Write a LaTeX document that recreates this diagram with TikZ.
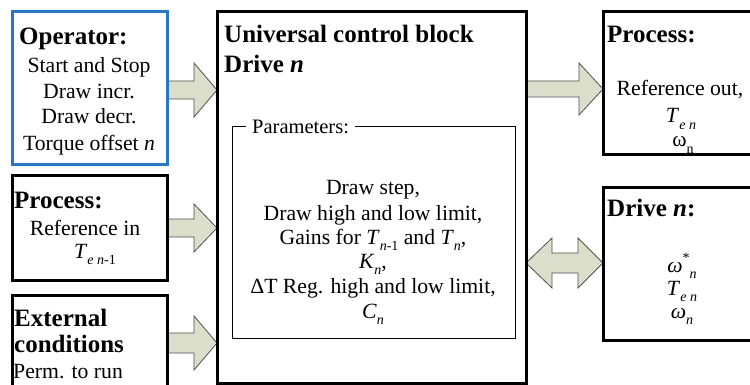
\documentclass[tikz,border=0pt]{standalone}
\usepackage{fontspec}
\setmainfont{Liberation Serif}
\usetikzlibrary{calc,backgrounds}
\definecolor{opblue}{RGB}{40,120,195}
\definecolor{arrfill}{RGB}{218,222,202}
\definecolor{arrline}{RGB}{80,80,80}
\newcommand\sbs[1]{\raisebox{-0.28em}{\fontsize{14}{14}\selectfont #1}}
\newcommand\sps[1]{\raisebox{0.45em}{\fontsize{14}{14}\selectfont #1}}
% right-pointing fat arrow: #1 from node, #2 to node, #3 y centre, #4 head half, #5 body half, #6 head length
\newcommand\rarr[6]{%
  \draw[fat] (#1.east |- 0,#3-#5) -- ($(#2.west |- 0,#3-#5)+(-#6,0)$) -- ($(#2.west |- 0,#3-#4)+(-#6,0)$)
    -- (#2.west |- 0,#3) -- ($(#2.west |- 0,#3+#4)+(-#6,0)$) -- ($(#2.west |- 0,#3+#5)+(-#6,0)$)
    -- (#1.east |- 0,#3+#5) -- cycle;}
\begin{document}
\begin{tikzpicture}[x=1pt,y=-1pt,
  box/.style={draw, line width=3pt, anchor=north west, inner sep=0pt, outer sep=0pt},
  txt/.style={inner sep=0pt, font=\fontsize{21.7}{24.8}\selectfont},
  hd/.style={inner sep=0pt, font=\fontsize{25}{28}\selectfont\bfseries},
  fat/.style={draw=arrline, fill=arrfill, line width=0.8pt, line join=miter}]
\path[use as bounding box, clip] (0,0) rectangle (750,385);

% boxes
\node[box, draw=opblue, minimum width=155, minimum height=153] (op) at (12,12) {};
\node[box, minimum width=155, minimum height=104] (pin) at (12,176) {};
\node[box, minimum width=155, minimum height=125] (ext) at (12,295) {};
\node[box, minimum width=309, minimum height=371] (main) at (217,12) {};
\node[box, line width=1pt, minimum width=283, minimum height=211] (par) at (232,127) {};
\node[box, minimum width=200, minimum height=143] (pout) at (603,12) {};
\node[box, minimum width=200, minimum height=152] (drv) at (603,188) {};

% arrows
\begin{scope}[on background layer]
\fill[white] (0,0) rectangle (750,385);
\rarr{op}{main}{90}{27}{9}{23}
\rarr{pin}{main}{228}{24}{9}{23}
\rarr{ext}{main}{343}{27}{10}{23}
\rarr{main}{pout}{89}{26}{8}{24}
\draw[fat] (main.east |- 0,263) -- ($(main.east |- 0,263-25)+(26,0)$) -- ($(main.east |- 0,263-10)+(26,0)$)
  -- ($(drv.west |- 0,263-10)+(-25,0)$) -- ($(drv.west |- 0,263-25)+(-25,0)$) -- (drv.west |- 0,263)
  -- ($(drv.west |- 0,263+25)+(-25,0)$) -- ($(drv.west |- 0,263+10)+(-25,0)$)
  -- ($(main.east |- 0,263+10)+(26,0)$) -- ($(main.east |- 0,263+25)+(26,0)$) -- cycle;
\end{scope}

% operator
\node[hd, anchor=base west] (opT) at (19,45) {Operator:};
\node[txt, anchor=base] (op1) at (89,73) {Start and Stop};
\node[txt, anchor=base] (op2) at (89,99) {Draw incr.};
\node[txt, anchor=base] (op3) at (89,124) {Draw decr.};
\node[txt, anchor=base] (op4) at (89,150) {Torque offset \textit{n}};

% process in
\node[hd, anchor=base west] (pinT) at (14,208) {Process:};
\node[txt, anchor=base] (pin1) at (85,235) {Reference in};
\node[txt, anchor=base] (pin2) at (95,258) {\textit{T}\sbs{\textit{e n}-1}};

% external
\node[hd, anchor=base west] (extT1) at (14,326) {External};
\node[hd, anchor=base west] (extT2) at (14,352) {conditions};
\node[txt, anchor=base west] (ext1) at (13,378) {Perm. to run};

% main
\node[hd, anchor=base west] (mT1) at (224,43) {Universal control block};
\node[hd, anchor=base west] (mT2) at (224,73) {Drive \textit{n}};
\node[txt, fill=white, inner xsep=6pt, anchor=base west, font=\fontsize{20.5}{24}\selectfont] (parT) at (246,134) {Parameters:};
\node[txt, anchor=base] (p1) at (373,194) {Draw step,};
\node[txt, anchor=base] (p2) at (373,220) {Draw high and low limit,};
\node[txt, anchor=base] (p3) at (373,244) {Gains for \textit{T}\sbs{\textit{n}-1} and \textit{T}\sbs{\textit{n}},};
\node[txt, anchor=base] (p4) at (373,268) {\textit{K}\sbs{\textit{n}},};
\node[txt, anchor=base] (p5) at (373,293) {ΔT Reg. high and low limit,};
\node[txt, anchor=base] (p6) at (373,318) {\textit{C}\sbs{\textit{n}}};

% process out
\node[hd, anchor=base west] (poT) at (607,43) {Process:};
\node[txt, anchor=base] (po1) at (680,96) {Reference out,};
\node[txt, anchor=base] (po2) at (681,123) {\textit{T}\sbs{\textit{e n}}};
\node[txt, anchor=base] (po3) at (683,147) {ω\sbs{n}};

% drive
\node[hd, anchor=base west] (drT) at (607,216) {Drive \textit{n}:};
\node[txt, anchor=base] (dr1) at (682,272) {\textit{ω}\sps{*}\sbs{\textit{n}}};
\node[txt, anchor=base] (dr2) at (682,295) {\textit{T}\sbs{\textit{e n}}};
\node[txt, anchor=base] (dr3) at (682,318) {\textit{ω}\sbs{\textit{n}}};
\end{tikzpicture}
\end{document}
